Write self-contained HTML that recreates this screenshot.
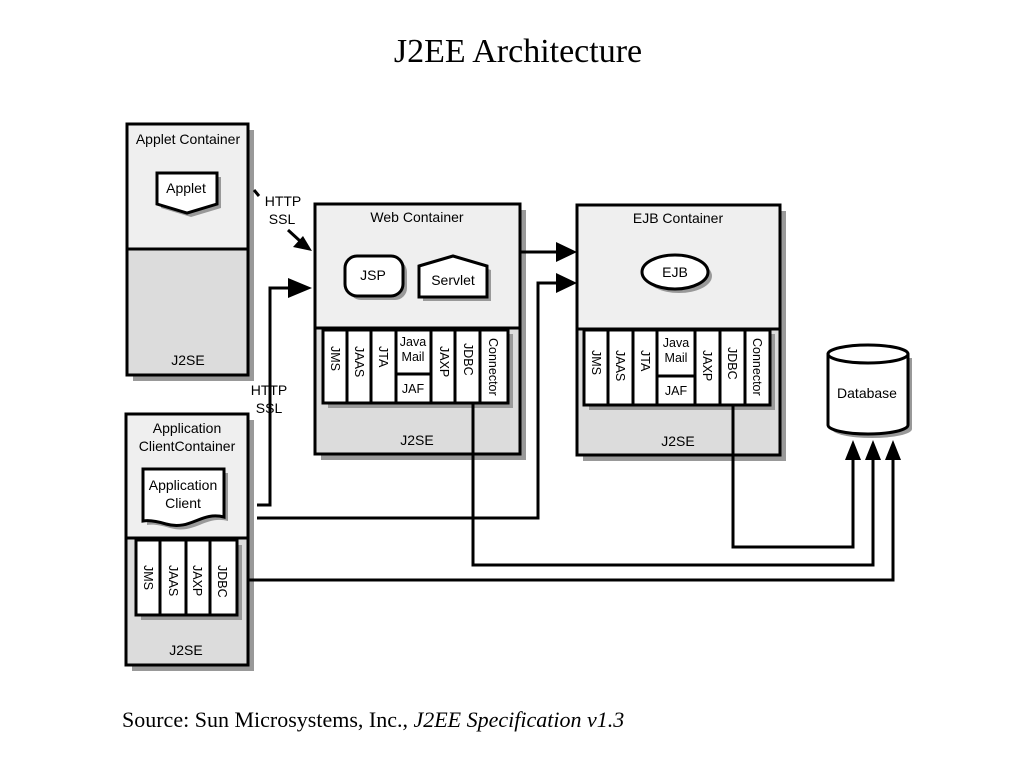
<!DOCTYPE html>
<html><head><meta charset="utf-8"><style>
body{margin:0;background:#fff;width:1024px;height:768px;overflow:hidden}
</style></head><body>
<svg width="1024" height="768" xmlns="http://www.w3.org/2000/svg" font-family="Liberation Sans, sans-serif">
<text x="518" y="62" font-family="Liberation Serif, serif" font-size="34" text-anchor="middle">J2EE Architecture</text>
<text x="122" y="727" font-family="Liberation Serif, serif" font-size="22">Source: Sun Microsystems, Inc., <tspan font-style="italic">J2EE Specification v1.3</tspan></text>

<g fill="#999" stroke="none">
<rect x="133" y="130" width="121" height="251"/>
<rect x="321" y="210" width="205" height="250"/>
<rect x="583" y="211" width="203" height="250"/>
<rect x="132" y="420" width="122" height="251"/>
</g>
<g stroke="#000" stroke-width="3">
<rect x="127" y="124" width="121" height="251" fill="#efefef"/>
<rect x="127" y="249" width="121" height="126" fill="#dcdcdc"/>
<rect x="315" y="204" width="205" height="250" fill="#efefef"/>
<rect x="315" y="328" width="205" height="126" fill="#dcdcdc"/>
<rect x="577" y="205" width="203" height="250" fill="#efefef"/>
<rect x="577" y="329" width="203" height="126" fill="#dcdcdc"/>
<rect x="126" y="414" width="122" height="251" fill="#efefef"/>
<rect x="126" y="538" width="122" height="127" fill="#dcdcdc"/>
</g>
<g font-size="14" text-anchor="middle">
<text x="188" y="144">Applet Container</text>
<text x="188" y="365">J2SE</text>
<text x="417" y="222">Web Container</text>
<text x="417" y="445">J2SE</text>
<text x="678" y="223">EJB Container</text>
<text x="678" y="446">J2SE</text>
<text x="187" y="433">Application</text>
<text x="187" y="451">ClientContainer</text>
<text x="186" y="655">J2SE</text>
</g>

<path d="M161 177 H221 V208 L191 217 L161 208 Z" fill="#999"/>
<path d="M157 173 H217 V204 L187 213 L157 204 Z" fill="#fff" stroke="#000" stroke-width="3"/>
<text x="186" y="193" font-size="14" text-anchor="middle">Applet</text>
<rect x="349" y="260" width="58" height="40" rx="12" fill="#999"/>
<rect x="345" y="256" width="58" height="40" rx="12" fill="#fff" stroke="#000" stroke-width="3"/>
<text x="373" y="280" font-size="14" text-anchor="middle">JSP</text>
<path d="M423 270 L457 260 L491 270 V301 H423 Z" fill="#999"/>
<path d="M419 266 L453 256 L487 266 V297 H419 Z" fill="#fff" stroke="#000" stroke-width="3"/>
<text x="453" y="285" font-size="14" text-anchor="middle">Servlet</text>
<ellipse cx="679" cy="276" rx="33" ry="17" fill="#999"/>
<ellipse cx="675" cy="272" rx="33" ry="17" fill="#fff" stroke="#000" stroke-width="3"/>
<text x="675" y="277" font-size="14" text-anchor="middle">EJB</text>
<path d="M147 473 H228 V521 C205 515 195 535 170 528 C160 525 153 524 147 525 Z" fill="#999"/>
<path d="M143 469 H224 V517 C201 511 191 531 166 524 C156 521 149 520 143 521 Z" fill="#fff" stroke="#000" stroke-width="3"/>
<text x="183" y="490" font-size="14" text-anchor="middle">Application</text>
<text x="183" y="508" font-size="14" text-anchor="middle">Client</text>

<g fill="#999"><rect x="328" y="334" width="185" height="74"/><rect x="589" y="334" width="186" height="76"/><rect x="141" y="545" width="101" height="75"/></g>
<g stroke="#000" stroke-width="3" fill="#fff">
<rect x="323" y="330" width="185" height="73"/>
<rect x="584" y="330" width="186" height="75"/>
<rect x="136" y="540" width="101" height="75"/>
</g>
<g stroke="#000" stroke-width="3">
<line x1="347" y1="330" x2="347" y2="403"/><line x1="371" y1="330" x2="371" y2="403"/><line x1="396" y1="330" x2="396" y2="403"/><line x1="431" y1="330" x2="431" y2="403"/><line x1="455" y1="330" x2="455" y2="403"/><line x1="480" y1="330" x2="480" y2="403"/><line x1="396" y1="374" x2="431" y2="374"/>
<line x1="608" y1="330" x2="608" y2="405"/><line x1="633" y1="330" x2="633" y2="405"/><line x1="657" y1="330" x2="657" y2="405"/><line x1="695" y1="330" x2="695" y2="405"/><line x1="720" y1="330" x2="720" y2="405"/><line x1="745" y1="330" x2="745" y2="405"/><line x1="657" y1="376" x2="695" y2="376"/>
<line x1="160" y1="540" x2="160" y2="615"/><line x1="186" y1="540" x2="186" y2="615"/><line x1="210" y1="540" x2="210" y2="615"/>
</g>
<g font-size="12.5">
<text transform="translate(331,346) rotate(90)">JMS</text>
<text transform="translate(355,346) rotate(90)">JAAS</text>
<text transform="translate(379,346) rotate(90)">JTA</text>
<text transform="translate(440,346) rotate(90)">JAXP</text>
<text transform="translate(464,343) rotate(90)">JDBC</text>
<text transform="translate(489,338) rotate(90)">Connector</text>
<text x="413" y="346" text-anchor="middle">Java</text><text x="413" y="361" text-anchor="middle">Mail</text><text x="413" y="393" text-anchor="middle">JAF</text>
<text transform="translate(592,350) rotate(90)">JMS</text>
<text transform="translate(616,350) rotate(90)">JAAS</text>
<text transform="translate(641,350) rotate(90)">JTA</text>
<text transform="translate(703,350) rotate(90)">JAXP</text>
<text transform="translate(728,347) rotate(90)">JDBC</text>
<text transform="translate(753,338) rotate(90)">Connector</text>
<text x="676" y="347" text-anchor="middle">Java</text><text x="676" y="362" text-anchor="middle">Mail</text><text x="676" y="395" text-anchor="middle">JAF</text>
<text transform="translate(144,565) rotate(90)">JMS</text>
<text transform="translate(169,565) rotate(90)">JAAS</text>
<text transform="translate(193,565) rotate(90)">JAXP</text>
<text transform="translate(218,565) rotate(90)">JDBC</text>
</g>

<path d="M832 358 V429 A40 9 0 0 0 912 429 V358" fill="#999"/>
<path d="M828 354 V425 A40 9 0 0 0 908 425 V354" fill="#fff" stroke="#000" stroke-width="3"/>
<ellipse cx="868" cy="354" rx="40" ry="9" fill="#fff" stroke="#000" stroke-width="3"/>
<text x="867" y="398" font-size="14" text-anchor="middle">Database</text>

<g stroke="#000" stroke-width="3" fill="none">
<line x1="254" y1="190" x2="259" y2="196"/>
<line x1="288" y1="230" x2="300" y2="241"/>
<polyline points="257,505 270,505 270,288 290,288"/>
<polyline points="257,518 538,518 538,283 560,283"/>
<line x1="520" y1="252" x2="560" y2="252"/>
<polyline points="473,403 473,565 873,565 873,458"/>
<polyline points="733,405 733,547 853,547 853,458"/>
<polyline points="248,580 893,580 893,458"/>
</g>
<g fill="#000">
<path d="M312 251 L293 247 L303 236 Z"/>
<path d="M312 288 L288 278 L288 298 Z"/>
<path d="M577 252 L556 242 L556 262 Z"/>
<path d="M577 283 L556 273 L556 293 Z"/>
<path d="M853 440 L845 460 L861 460 Z"/>
<path d="M873 440 L865 460 L881 460 Z"/>
<path d="M893 440 L885 460 L901 460 Z"/>
</g>
<g font-size="14" text-anchor="middle">
<text x="283" y="206">HTTP</text><text x="282" y="224">SSL</text>
<text x="269" y="395">HTTP</text><text x="269" y="413">SSL</text>
</g>
</svg>
</body></html>
